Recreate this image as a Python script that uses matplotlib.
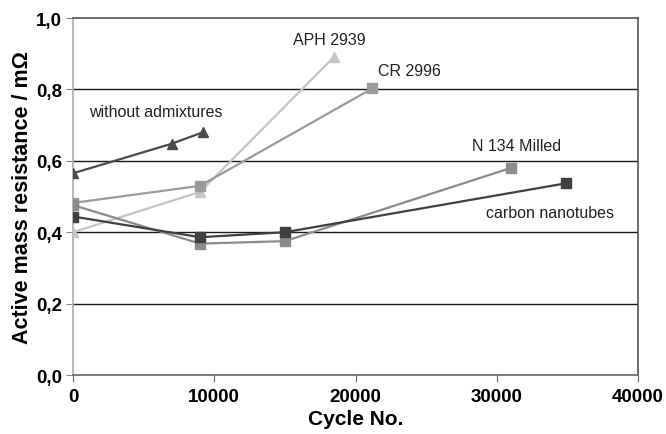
import matplotlib.pyplot as plt

# ---------------------------------------------------------------------------
# Data
# ---------------------------------------------------------------------------
without_x = [0, 7000, 9200]
without_y = [0.565, 0.648, 0.680]

aph_x = [0, 9000, 18500]
aph_y = [0.400, 0.513, 0.892]

cr_x = [0, 9000, 21200]
cr_y = [0.482, 0.530, 0.803]

n134_x = [0, 9000, 15000, 31000]
n134_y = [0.476, 0.368, 0.375, 0.580]

cnt_x = [0, 9000, 15000, 34900]
cnt_y = [0.444, 0.386, 0.400, 0.537]

xticks = [0, 10000, 20000, 30000, 40000]
yticks = [0.0, 0.2, 0.4, 0.6, 0.8, 1.0]
ytick_labels = ['0,0', '0,2', '0,4', '0,6', '0,8', '1,0']

# ---------------------------------------------------------------------------
# Figure
# ---------------------------------------------------------------------------
plt.rcParams['font.family'] = ['Liberation Sans', 'DejaVu Sans']

fig = plt.figure(figsize=(6.66, 4.35), dpi=100)
ax = fig.add_axes([0.1096, 0.1356, 0.8484, 0.8207])

for y in [0.2, 0.4, 0.6, 0.8]:
    ax.axhline(y, color='#1a1a1a', linewidth=1.0, zorder=1)

ax.plot(without_x, without_y, color='#4a4a4a', marker='^', markersize=6.5, linewidth=1.6, zorder=3)
ax.plot(aph_x, aph_y, color='#c4c4c4', marker='^', markersize=6.5, linewidth=1.6, zorder=3)
ax.plot(cr_x, cr_y, color='#9a9a9a', marker='s', markersize=6.5, linewidth=1.6, zorder=3)
ax.plot(n134_x, n134_y, color='#8c8c8c', marker='s', markersize=6.5, linewidth=1.6, zorder=3)
ax.plot(cnt_x, cnt_y, color='#404040', marker='s', markersize=6.5, linewidth=1.6, zorder=3)

# series labels
lab = dict(fontsize=11.5, color='#222222', ha='left', va='center')
ax.text(15570, 0.941, 'APH 2939', **lab)
ax.text(21590, 0.854, 'CR 2996', **lab)
ax.text(1130, 0.739, 'without admixtures', **lab)
ax.text(28240, 0.644, 'N 134 Milled', **lab)
ax.text(29230, 0.454, 'carbon nanotubes', **lab)

ax.set_xlim(0, 40000)
ax.set_ylim(0, 1.0)
ax.set_xticks(xticks)
ax.set_xticklabels([str(t) for t in xticks], fontsize=13.5, fontweight='bold')
ax.set_yticks(yticks)
ax.set_yticklabels(ytick_labels, fontsize=13.5, fontweight='bold')
ax.tick_params(axis='x', direction='out', length=5, color='#666666', pad=4)
ax.tick_params(axis='y', direction='out', length=5, color='#888888', pad=3)

ax.set_xlabel('Cycle No.', fontsize=15, fontweight='bold', labelpad=3)
ax.set_ylabel('Active mass resistance / mΩ', fontsize=15.5, fontweight='bold', labelpad=2)

ax.spines['left'].set_color('#aaaaaa')
ax.spines['bottom'].set_color('#666666')
ax.spines['top'].set_color('#555555')
ax.spines['right'].set_color('#555555')
for s in ax.spines.values():
    s.set_linewidth(1.2)

fig.savefig('out.png', dpi=100)
